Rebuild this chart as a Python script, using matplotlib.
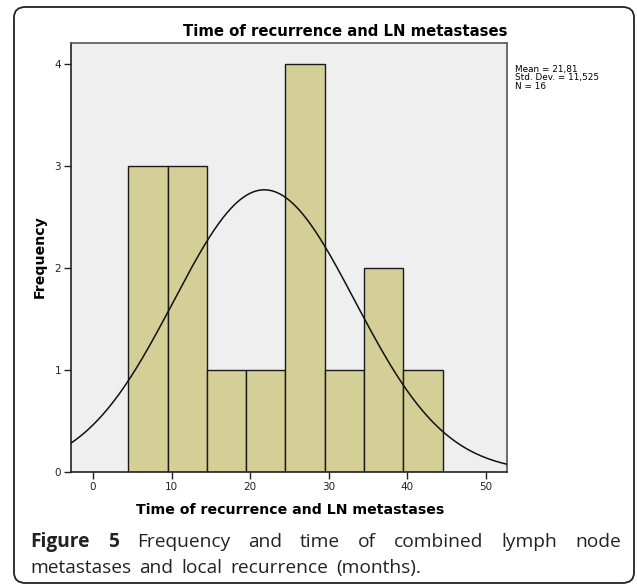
import numpy as np
import matplotlib
matplotlib.use("Agg")
import matplotlib.pyplot as plt
from matplotlib.patches import FancyBboxPatch

# ---- data ----
bin_edges = [4.5, 9.5, 14.5, 19.5, 24.5, 29.5, 34.5, 39.5, 44.5]
frequencies = [3, 3, 1, 1, 4, 1, 2, 1]
mean_val = 21.81
std_val = 11.525
n_val = 16
x_ticks = [0, 10, 20, 30, 40, 50]
y_ticks = [0, 1, 2, 3, 4]
title = "Time of recurrence and LN metastases"
xlabel = "Time of recurrence and LN metastases"
ylabel = "Frequency"
stats_lines = ["Mean = 21,81", "Std. Dev. = 11,525", "N = 16"]
caption_bold = ["Figure", "5"]
caption_line1 = ["Frequency", "and", "time", "of", "combined", "lymph", "node"]
caption_line2 = ["metastases", "and", "local", "recurrence", "(months)."]

W, H = 637, 587
fig = plt.figure(figsize=(W / 100, H / 100), dpi=100)

# outer rounded frame
frame = FancyBboxPatch((14 / W, 1 - 583 / H), (634 - 14) / W, (583 - 7) / H,
                       boxstyle="round,pad=0,rounding_size=0.018",
                       transform=fig.transFigure, fill=False,
                       edgecolor="#222222", linewidth=1.3)
fig.patches.append(frame)

ax = fig.add_axes([71 / W, 1 - 472 / H, (507 - 71) / W, (472 - 43) / H])
ax.set_facecolor("#efefef")

widths = np.diff(bin_edges)
ax.bar(bin_edges[:-1], frequencies, width=widths, align="edge",
       color="#d3cf97", edgecolor="#1a1a1a", linewidth=1.0, zorder=2)

xs = np.linspace(-2.8, 52.8, 400)
binw = widths[0]
ys = n_val * binw * np.exp(-0.5 * ((xs - mean_val) / std_val) ** 2) / (std_val * np.sqrt(2 * np.pi))
ax.plot(xs, ys, color="#111111", linewidth=1.1, zorder=3)

ax.set_xlim(-2.8, 52.7)
ax.set_ylim(0, 4.21)
ax.set_xticks(x_ticks)
ax.set_yticks(y_ticks)
ax.tick_params(direction="out", length=5, width=1, labelsize=7.5, colors="#222222", pad=2)
for s in ax.spines.values():
    s.set_color("#555555")
    s.set_linewidth(1.2)
ax.spines["left"].set_color("#222222")
ax.spines["bottom"].set_color("#222222")

fig.text(345 / W, 1 - 32 / H, title, ha="center", va="center",
         fontsize=10.7, fontweight="bold", family="DejaVu Sans")
fig.text(290 / W, 1 - 510 / H, xlabel, ha="center", va="center",
         fontsize=10.2, fontweight="bold", family="DejaVu Sans")
fig.text(40 / W, 1 - 257 / H, ylabel, ha="center", va="center", rotation=90,
         fontsize=10.2, fontweight="bold", family="DejaVu Sans")
fig.text(515 / W, 1 - 65 / H, "\n".join(stats_lines), ha="left", va="top",
         fontsize=6.4, linespacing=0.92, family="DejaVu Sans")

# ---- caption: words placed individually ----
renderer = fig.canvas.get_renderer()
cap_font = "Open Sans"
cap_size = 13.8
cap_color = "#222222"
left_px, right_px = 30.5, 621
line2_right = 421
y1 = 1 - 542 / H
y2 = 1 - 568 / H


def place_line(words, y, right):
    items = []
    total = 0
    for w, wt in words:
        t = fig.text(0, y, w, fontsize=cap_size, fontweight=wt, family=cap_font,
                     ha="left", va="center", color=cap_color)
        ww = t.get_window_extent(renderer).width
        items.append((t, ww))
        total += ww
    gap = ((right - left_px) - total) / (len(words) - 1)
    x = left_px
    for t, ww in items:
        t.set_x(x / W)
        x += ww + gap


place_line([(w, "bold") for w in caption_bold] + [(w, "normal") for w in caption_line1],
           y1, right_px)
place_line([(w, "normal") for w in caption_line2], y2, line2_right)

fig.savefig("out.png", dpi=100)
